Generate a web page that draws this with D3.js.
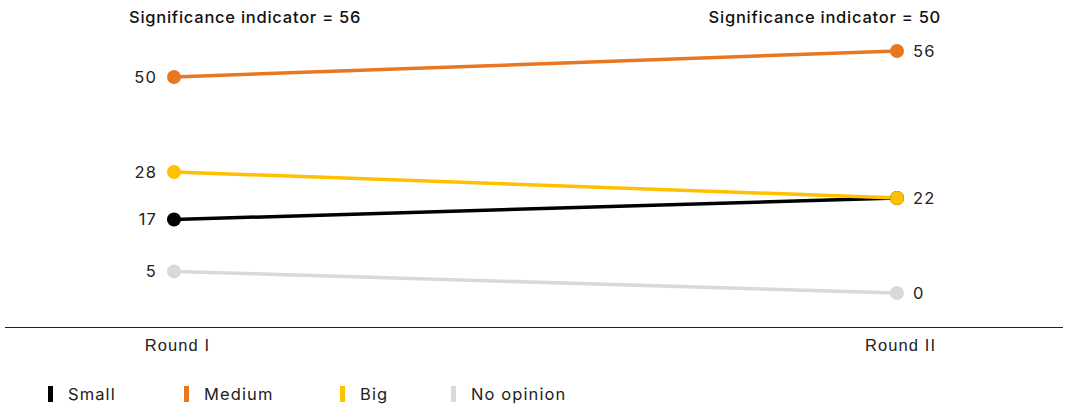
<!DOCTYPE html>
<html>
<head>
<meta charset="utf-8">
<script src="https://cdn.jsdelivr.net/npm/d3@7"></script>
<style>
  html, body { margin: 0; padding: 0; background: #fff; }
  svg { display: block; font-family: Inter, "Noto Sans", sans-serif; }
  .lbl { font-size: 16.5px; letter-spacing: 1.1px; fill: #222; }
  .hdr { font-size: 16.5px; font-weight: 500; letter-spacing: 0.75px; fill: #111; }
</style>
</head>
<body>
<svg id="chart" width="1068" height="404"></svg>
<script>
// Rounds on the x axis
const rounds = ["Round I", "Round II"];
// Series names and their shares per round
const seriesNames = ["Small", "Medium", "Big", "No opinion"];
const small = [17, 22];
const medium = [50, 56];
const big = [28, 22];
const noOpinion = [5, 0];
const seriesColors = ["#000000", "#e87722", "#ffc000", "#d9d9d9"];
// Header texts above each round
const headers = ["Significance indicator = 56", "Significance indicator = 50"];

const values = [small, medium, big, noOpinion];
const series = seriesNames.map((name, i) => ({ name, values: values[i], color: seriesColors[i] }));

const svg = d3.select("#chart");

const x = d3.scalePoint().domain(rounds).range([174, 897]);
const y = d3.scaleLinear().domain([0, 56]).range([293, 51]);

// Headers
svg.append("text").attr("class", "hdr").attr("x", 129).attr("y", 23).text(headers[0]);
svg.append("text").attr("class", "hdr").attr("x", 941).attr("y", 23)
  .attr("text-anchor", "end").text(headers[1]);

// Baseline axis
svg.append("line").attr("x1", 5).attr("x2", 1063).attr("y1", 327.5).attr("y2", 327.5)
  .attr("stroke", "#222").attr("stroke-width", 1);

const xAxis = svg.append("g").attr("transform", "translate(0,327)")
  .call(d3.axisBottom(x).tickSize(0).tickPadding(12));
xAxis.select(".domain").remove();
xAxis.selectAll("text").attr("class", "lbl").attr("font-family", null).attr("font-size", null)
  .attr("dx", 3);
svg.selectAll(".tick text").style("font-size", "16.5px");

// Lines, dots, labels
const line = d3.line().x((d, i) => x(rounds[i])).y(d => y(d));
const g = svg.append("g");
const drawOrder = [3, 0, 2, 1];
drawOrder.forEach(idx => {
  const s = series[idx];
  g.append("path").datum(s.values).attr("d", line)
    .attr("fill", "none").attr("stroke", s.color).attr("stroke-width", 3.5);
});
drawOrder.forEach(idx => {
  const s = series[idx];
  g.selectAll(null).data(s.values).enter().append("circle")
    .attr("cx", (d, i) => x(rounds[i])).attr("cy", d => y(d)).attr("r", 7)
    .attr("fill", s.color);
});

// Value labels (left side right-aligned, right side left-aligned)
const leftVals = Array.from(new Set(series.map(s => s.values[0])));
const rightVals = Array.from(new Set(series.map(s => s.values[1])));
svg.selectAll(".lv").data(leftVals).enter().append("text").attr("class", "lbl")
  .attr("x", x(rounds[0]) - 17).attr("y", d => y(d)).attr("dy", "0.35em")
  .attr("text-anchor", "end").text(d => d);
svg.selectAll(".rv").data(rightVals).enter().append("text").attr("class", "lbl")
  .attr("x", x(rounds[1]) + 16).attr("y", d => y(d)).attr("dy", "0.35em")
  .attr("text-anchor", "start").text(d => d);

// Legend
const legendX = [48, 184, 340, 451];
const legend = svg.append("g").attr("transform", "translate(0,394)");
series.forEach((s, i) => {
  legend.append("rect").attr("x", legendX[i]).attr("y", -8).attr("width", 5).attr("height", 16)
    .attr("fill", s.color);
  legend.append("text").attr("class", "lbl").attr("x", legendX[i] + 20).attr("y", 0)
    .attr("dy", "0.35em").text(s.name);
});
</script>
</body>
</html>
